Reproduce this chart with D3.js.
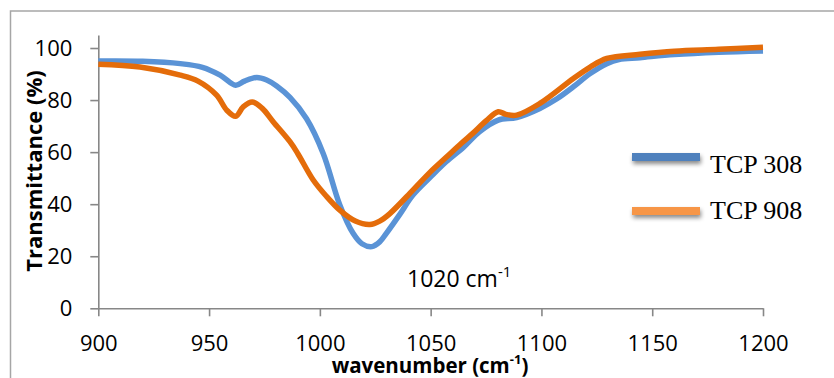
<!DOCTYPE html>
<html>
<head>
<meta charset="utf-8">
<script src="https://cdn.jsdelivr.net/npm/d3@7"></script>
<style>
  body { margin: 0; background: #fff; }
  svg { display: block; font-family: "Open Sans", sans-serif; }
  .axis path, .axis line { stroke: #878787; stroke-width: 1.6; }
  .axis text { font-size: 22px; fill: #000; font-family: "Open Sans", sans-serif; }
</style>
</head>
<body>
<svg id="chart" width="834" height="378"></svg>
<script>
// Series data
const wn308 = [900, 920, 937, 947, 955, 962, 966, 971.5, 976, 980.5, 986.5, 994, 1001.5, 1009, 1015, 1019, 1023.5, 1027, 1030, 1036, 1042, 1050, 1057, 1065, 1072, 1080.5, 1088.8, 1099.3, 1107, 1114.4, 1122, 1129.5, 1135, 1144.5, 1160, 1180, 1200];
const t308  = [95.0, 94.9, 94.0, 92.6, 89.6, 85.7, 87.3, 88.7, 87.7, 85.4, 81.0, 72.8, 59.5, 39.7, 28.8, 24.8, 23.7, 25.5, 28.8, 36.0, 43.5, 50.5, 56.3, 62.0, 67.8, 72.3, 73.3, 76.8, 80.5, 85.1, 90.2, 94.0, 95.6, 96.3, 97.5, 98.4, 98.9];

const wn908 = [900, 918.8, 937, 945, 953.4, 958, 962, 965.5, 969.5, 974, 979, 986.5, 990, 997, 1003, 1009, 1016, 1022.6, 1027, 1031.6, 1042, 1050, 1057, 1064, 1069, 1075, 1080.5, 1084, 1088.8, 1099.3, 1114.4, 1122, 1129.5, 1144.5, 1160, 1180, 1200];
const t908  = [93.8, 92.7, 89.6, 87.3, 81.9, 76.1, 73.8, 77.5, 79.3, 76.8, 71.6, 64.0, 59.5, 49.3, 43.0, 37.7, 33.5, 32.2, 33.5, 36.4, 45.4, 52.5, 58.0, 63.5, 67.2, 72.0, 75.5, 74.5, 74.2, 78.7, 88.3, 92.7, 96.0, 97.6, 98.8, 99.5, 100.3];

const seriesNames = ['TCP 308', 'TCP 908'];
const xTicks = [900, 950, 1000, 1050, 1100, 1150, 1200];
const yTicks = [0, 20, 40, 60, 80, 100];

const COLORS = {
  line308: '#5A93D6',
  line908: '#E46C0A',
  legend308: '#4F81BD',
  legend908: '#F79646'
};

const svg = d3.select('#chart');

// outer frame (runs off the right and bottom edges)
svg.append('rect')
  .attr('x', 10.5).attr('y', 11)
  .attr('width', 900).attr('height', 500)
  .attr('fill', 'none')
  .attr('stroke', '#a6a6a6')
  .attr('stroke-width', 1.5);

// shadow for legend swatches
const defs = svg.append('defs');
const shadow = defs.append('filter').attr('id', 'shadow')
  .attr('filterUnits', 'userSpaceOnUse')
  .attr('x', 600).attr('y', 120).attr('width', 140).attr('height', 120);
shadow.append('feDropShadow')
  .attr('dx', 1).attr('dy', 3)
  .attr('stdDeviation', 2)
  .attr('flood-color', '#000')
  .attr('flood-opacity', 0.45);

const x = d3.scaleLinear().domain([900, 1200]).range([98.3, 763]);
const y = d3.scaleLinear().domain([0, 105]).range([308.3, 35]);

// axes
svg.append('g')
  .attr('class', 'axis x-axis')
  .attr('transform', `translate(0,${y(0)})`)
  .call(d3.axisBottom(x).tickValues(xTicks).tickSize(8).tickSizeOuter(0).tickPadding(19).tickFormat(d3.format('d')));

svg.append('g')
  .attr('class', 'axis y-axis')
  .attr('transform', `translate(${x(900)},0)`)
  .call(d3.axisLeft(y).tickValues(yTicks).tickSize(8).tickSizeOuter(0).tickPadding(18).tickFormat(d3.format('d')));

// lines
const line = d3.line()
  .x(d => x(d[0]))
  .y(d => y(d[1]))
  .curve(d3.curveCatmullRom.alpha(0.5));

const data308 = wn308.map((w, i) => [w, t308[i]]);
const data908 = wn908.map((w, i) => [w, t908[i]]);

svg.append('path')
  .datum(data308)
  .attr('fill', 'none')
  .attr('stroke', COLORS.line308)
  .attr('stroke-width', 5.5)
  .attr('d', line);

svg.append('path')
  .datum(data908)
  .attr('fill', 'none')
  .attr('stroke', COLORS.line908)
  .attr('stroke-width', 5.5)
  .attr('d', line);

// axis titles
svg.append('text')
  .attr('transform', 'translate(42,171) rotate(-90)')
  .attr('text-anchor', 'middle')
  .attr('font-size', 22)
  .attr('font-weight', 700)
  .text('Transmittance (%)');

const xTitle = svg.append('text')
  .attr('x', 430).attr('y', 373)
  .attr('text-anchor', 'middle')
  .attr('font-size', 20.5)
  .attr('font-weight', 700);
xTitle.append('tspan').text('wavenumber (cm');
xTitle.append('tspan').attr('font-size', 13).attr('dy', -9).text('-1');
xTitle.append('tspan').attr('dy', 9).text(')');

// peak annotation
const note = svg.append('text')
  .attr('x', 407).attr('y', 287)
  .attr('font-size', 23);
note.append('tspan').text('1020 cm');
note.append('tspan').attr('font-size', 15).attr('dy', -10).text('-1');

// legend
const legendY = [157, 211];
const legendBase = [173, 219];
const legendColors = [COLORS.legend308, COLORS.legend908];
const legend = svg.append('g').attr('class', 'legend');
seriesNames.forEach((name, i) => {
  legend.append('rect')
    .attr('x', 632).attr('y', legendY[i] - 4)
    .attr('width', 68).attr('height', 8)
    .attr('fill', legendColors[i])
    .attr('filter', 'url(#shadow)');
  legend.append('text')
    .attr('x', 710).attr('y', legendBase[i])
    .attr('font-family', '"Liberation Serif", "Times New Roman", serif')
    .attr('font-size', 26)
    .attr('fill', '#000')
    .text(name);
});
</script>
</body>
</html>
